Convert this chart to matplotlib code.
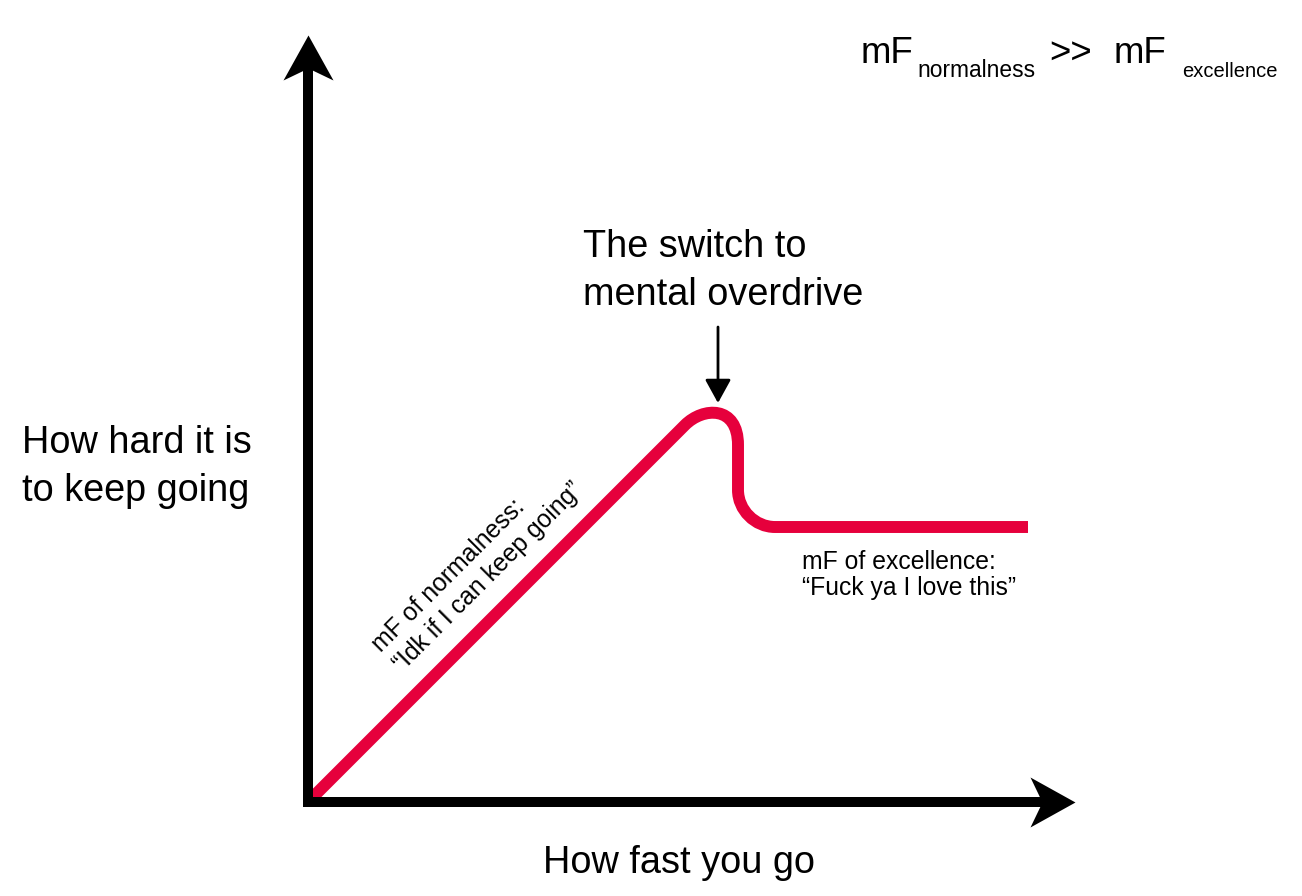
import numpy as np
import matplotlib
matplotlib.use("Agg")
import matplotlib.pyplot as plt
from matplotlib.path import Path
from matplotlib.patches import PathPatch

plt.rcParams['font.family'] = ['Liberation Sans', 'DejaVu Sans']

# curve: how hard it is to keep going vs how fast you go (1 unit = 100 px)
# key points of the line + bezier control points for the rounded corners
speed = [0.05, 3.77, 3.95, 4.30, 4.30, 4.30, 4.30, 4.47, 4.67, 7.20]
effort = [0.05, 3.77, 3.95, 3.97, 3.57, 3.12, 2.92, 2.75, 2.75, 2.75]
codes = [Path.MOVETO, Path.LINETO,
         Path.CURVE4, Path.CURVE4, Path.CURVE4,
         Path.LINETO,
         Path.CURVE4, Path.CURVE4, Path.CURVE4,
         Path.LINETO]

x_axis_end = 7.67
y_axis_end = 7.67
switch_point = (4.10, 3.99)

red = '#e6003c'

fig = plt.figure(figsize=(13.02, 8.96), dpi=100)
ax = fig.add_axes([0, 0, 1, 1])
ax.set_xlim(-3.08, 9.94)
ax.set_ylim(-0.94, 8.02)
ax.axis('off')

# axes with arrow heads
ax.plot([0, 0], [0, y_axis_end - 0.35], color='black', lw=7.2, solid_capstyle='projecting')
ax.plot([0, x_axis_end - 0.35], [0, 0], color='black', lw=7.2, solid_capstyle='projecting')
up_head = Path([(0, 0), (25, -45), (0, -33), (-25, -45), (0, 0)],
               [Path.MOVETO, Path.LINETO, Path.LINETO, Path.LINETO, Path.CLOSEPOLY])
right_head = Path([(0, 0), (-45, 25), (-33, 0), (-45, -25), (0, 0)],
                  [Path.MOVETO, Path.LINETO, Path.LINETO, Path.LINETO, Path.CLOSEPOLY])
ax.plot(0, y_axis_end, marker=up_head, markersize=64.8, color='black', markeredgewidth=0)
ax.plot(x_axis_end, 0, marker=right_head, markersize=64.8, color='black', markeredgewidth=0)

# the red curve
curve = Path(np.column_stack([speed, effort]), codes)
ax.add_patch(PathPatch(curve, facecolor='none', edgecolor=red, lw=8.6,
                       capstyle='butt', joinstyle='round'))

# arrow to the switch point
ax.annotate('', xy=switch_point, xytext=(switch_point[0], switch_point[1] + 0.76),
            arrowprops=dict(arrowstyle='-|>,head_length=0.8,head_width=0.44',
                            mutation_scale=18, color='black', lw=2.0,
                            shrinkA=0, shrinkB=0))

big = 27.3
ax.text(2.75, 5.45, 'The switch to', fontsize=big, ha='left', va='baseline')
ax.text(2.75, 4.97, 'mental overdrive', fontsize=big, ha='left', va='baseline')
ax.text(-2.86, 3.49, 'How hard it is', fontsize=big, ha='left', va='baseline')
ax.text(-2.86, 3.01, 'to keep going', fontsize=big, ha='left', va='baseline')
ax.text(2.35, -0.71, 'How fast you go', fontsize=big, ha='left', va='baseline')

# top right formula
ax.text(5.53, 7.39, 'mF', fontsize=26.4, ha='left', va='baseline')
ax.text(6.09, 7.25, 'normalness', fontsize=16.4, ha='left', va='baseline')
ax.text(7.41, 7.39, '>>', fontsize=26.4, ha='left', va='baseline')
ax.text(8.06, 7.39, 'mF', fontsize=26.4, ha='left', va='baseline')
ax.text(8.74, 7.25, 'excellence', fontsize=14.5, ha='left', va='baseline')

# curve annotations
small = 17.8
ax.text(0.73, 1.49, 'mF of normalness:', fontsize=small, rotation=45,
        rotation_mode='anchor', ha='left', va='baseline')
ax.text(0.94, 1.30, '\u201cIdk if I can keep going\u201d', fontsize=small, rotation=45,
        rotation_mode='anchor', ha='left', va='baseline')
ax.text(4.94, 2.33, 'mF of excellence:', fontsize=small, ha='left', va='baseline')
ax.text(4.94, 2.07, '\u201cFuck ya I love this\u201d', fontsize=small, ha='left', va='baseline')

fig.savefig('out.png', dpi=100)
